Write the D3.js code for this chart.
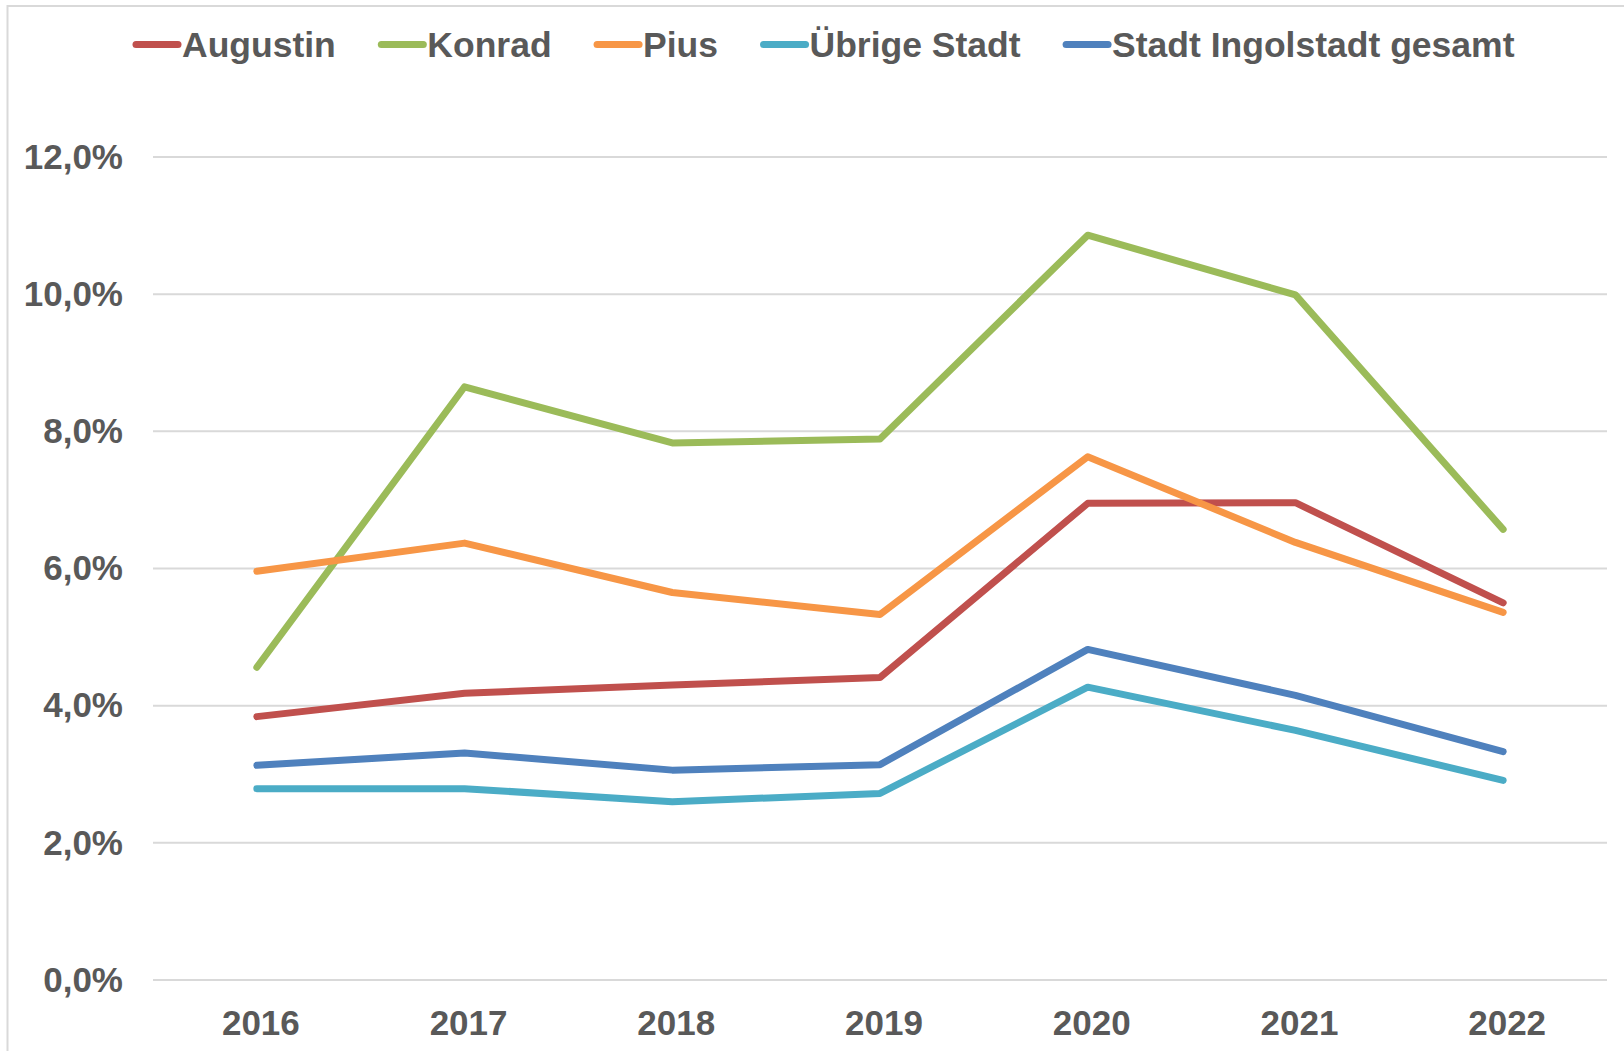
<!DOCTYPE html>
<html>
<head>
<meta charset="utf-8">
<script src="https://cdn.jsdelivr.net/npm/d3@7"></script>
<style>
  body { margin: 0; background: #fff; }
  text { font-family: "Liberation Sans", Arial, sans-serif; font-weight: bold; fill: #595959; }
</style>
</head>
<body>
<svg width="1624" height="1051"></svg>
<script>
// data (percent)
var years = ["2016", "2017", "2018", "2019", "2020", "2021", "2022"];
var seriesNames = ["Augustin", "Konrad", "Pius", "Übrige Stadt", "Stadt Ingolstadt gesamt"];
var colors = ["#C0504D", "#9BBB59", "#F79646", "#4BACC6", "#4F81BD"];

var augustin = [3.84, 4.18, 4.30, 4.41, 6.95, 6.96, 5.50];
var konrad   = [4.56, 8.65, 7.83, 7.89, 10.86, 9.99, 6.57];
var pius     = [5.96, 6.37, 5.65, 5.33, 7.63, 6.38, 5.36];
var uebrige  = [2.79, 2.79, 2.60, 2.72, 4.27, 3.64, 2.91];
var gesamt   = [3.13, 3.31, 3.06, 3.14, 4.82, 4.15, 3.33];

var yTicks = [0, 2, 4, 6, 8, 10, 12];

var values = [augustin, konrad, pius, uebrige, gesamt];

var svg = d3.select("svg"),
    width = +svg.attr("width"),
    height = +svg.attr("height");

// chart frame
svg.append("rect")
    .attr("x", 7.5).attr("y", 6)
    .attr("width", width + 20).attr("height", height + 20)
    .style("fill", "none")
    .style("stroke", "#D9D9D9")
    .style("stroke-width", 2);

var x = d3.scaleBand()
    .domain(years)
    .range([153, 1607]);

var y = d3.scaleLinear()
    .domain([0, 12])
    .range([980, 157]);

// gridlines
svg.append("g")
    .selectAll("line")
    .data(yTicks)
    .enter().append("line")
      .attr("x1", 153).attr("x2", 1607)
      .attr("y1", function(d){ return y(d) })
      .attr("y2", function(d){ return y(d) })
      .style("stroke", "#D9D9D9")
      .style("stroke-width", 2);

// y axis labels
var yAxis = svg.append("g")
    .attr("transform", "translate(153,0)")
    .call(d3.axisLeft(y).tickValues(yTicks).tickSize(0).tickPadding(30)
      .tickFormat(function(d){ return d3.format(".1f")(d).replace(".", ",") + "%" }));
yAxis.select(".domain").remove();
yAxis.selectAll("text")
    .attr("font-size", 35)
    .attr("font-family", null)
    .attr("fill", "#595959");

// x axis labels
var xAxis = svg.append("g")
    .attr("transform", "translate(4,980)")
    .call(d3.axisBottom(x).tickSize(0).tickPadding(30));
xAxis.select(".domain").remove();
xAxis.selectAll("text")
    .attr("font-size", 35)
    .attr("font-family", null)
    .attr("fill", "#595959");

// lines
var line = d3.line()
    .x(function(d, i){ return x(years[i]) + x.bandwidth() / 2 })
    .y(function(d){ return y(d) });

svg.append("g")
    .selectAll("path")
    .data(values)
    .enter().append("path")
      .attr("d", function(d){ return line(d) })
      .style("fill", "none")
      .style("stroke", function(d, i){ return colors[i] })
      .style("stroke-width", 7)
      .style("stroke-linejoin", "round")
      .style("stroke-linecap", "round");

// legend
var legend = svg.append("g");
var lx = 133, ly = 44.5;
seriesNames.forEach(function(name, i){
  legend.append("line")
      .attr("x1", lx + 3).attr("x2", lx + 45)
      .attr("y1", ly).attr("y2", ly)
      .style("stroke", colors[i])
      .style("stroke-width", 7)
      .style("stroke-linecap", "round");
  var t = legend.append("text")
      .attr("x", lx + 49)
      .attr("y", ly + 12.5)
      .attr("font-size", 35.5)
      .text(name);
  lx = lx + 49 + t.node().getComputedTextLength() + 42.5;
});
</script>
</body>
</html>
